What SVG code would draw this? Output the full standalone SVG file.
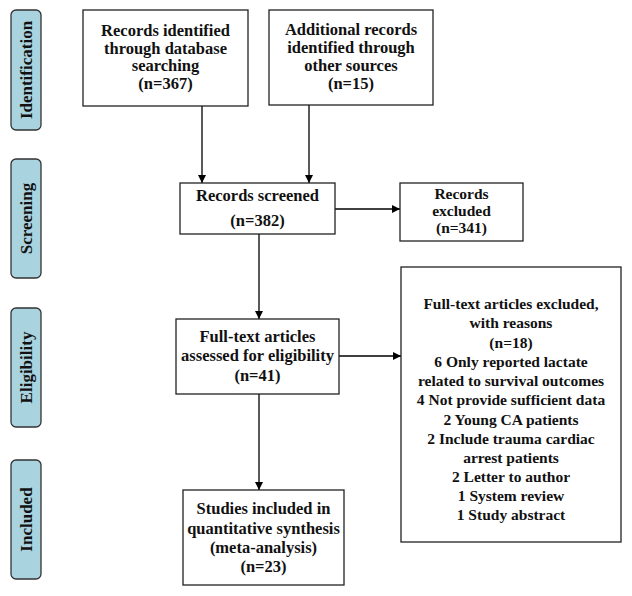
<svg xmlns="http://www.w3.org/2000/svg" width="632" height="596" viewBox="0 0 632 596">
<defs>
<marker id="arr" viewBox="0 0 10 10" refX="10" refY="5" markerWidth="8" markerHeight="8" markerUnits="userSpaceOnUse" orient="auto">
<path d="M0,0 L10,5 L0,10 z" fill="#000"/>
</marker>
<style>
.box{fill:#fff;stroke:#222;stroke-width:1.3}
.side{fill:#a9d3df;stroke:#333;stroke-width:1.3}
.t{font-family:"Liberation Serif","Times New Roman",serif;font-weight:bold;font-size:16.5px;text-anchor:middle;fill:#111}
.r{font-family:"Liberation Serif","Times New Roman",serif;font-weight:bold;font-size:15.5px;text-anchor:middle;fill:#111}
.s{font-family:"Liberation Serif","Times New Roman",serif;font-weight:bold;font-size:17px;text-anchor:middle;fill:#111}
.c{stroke:#000;stroke-width:1.3;fill:none;marker-end:url(#arr)}
</style>
</defs>
<rect width="632" height="596" fill="#fff"/>
<g id="phase-identification">
<rect class="side" x="11" y="10" width="30" height="120" rx="5"/>
<text class="s" transform="translate(32,70) rotate(-90)">Identification</text>
</g>
<g id="phase-screening">
<rect class="side" x="11" y="159" width="30" height="119" rx="5"/>
<text class="s" transform="translate(32,218.5) rotate(-90)">Screening</text>
</g>
<g id="phase-eligibility">
<rect class="side" x="11" y="308" width="30" height="119" rx="5"/>
<text class="s" transform="translate(32,367.5) rotate(-90)">Eligibility</text>
</g>
<g id="phase-included">
<rect class="side" x="11" y="460" width="30" height="119" rx="5"/>
<text class="s" transform="translate(32,519.5) rotate(-90)">Included</text>
</g>
<g id="connectors">
<line class="c" x1="202" y1="106" x2="202" y2="183"/>
<line class="c" x1="309" y1="105" x2="309" y2="183"/>
<line class="c" x1="335" y1="209" x2="400" y2="209"/>
<line class="c" x1="259" y1="234" x2="259" y2="319"/>
<line class="c" x1="339" y1="356" x2="401" y2="356"/>
<line class="c" x1="259" y1="394" x2="259" y2="490"/>
</g>
<g id="records-identified">
<rect class="box" x="83" y="10" width="165" height="96"/>
<text class="t" x="165.5" y="36">Records identified</text>
<text class="t" x="165.5" y="53.5">through database</text>
<text class="t" x="165.5" y="71">searching</text>
<text class="t" x="165.5" y="89">(n=367)</text>
</g>
<g id="additional-records">
<rect class="box" x="269" y="10" width="164" height="95"/>
<text class="t" x="351" y="35">Additional records</text>
<text class="t" x="351" y="53">identified through</text>
<text class="t" x="351" y="71">other sources</text>
<text class="t" x="351" y="89">(n=15)</text>
</g>
<g id="records-screened">
<rect class="box" x="180" y="183" width="155" height="51"/>
<text class="t" x="257.5" y="201">Records screened</text>
<text class="t" x="257.5" y="226">(n=382)</text>
</g>
<g id="records-excluded">
<rect class="box" x="400" y="183" width="123" height="58"/>
<text class="r" x="461.5" y="199">Records</text>
<text class="r" x="461.5" y="216">excluded</text>
<text class="r" x="461.5" y="233">(n=341)</text>
</g>
<g id="full-text-assessed">
<rect class="box" x="176" y="319" width="163" height="75"/>
<text class="t" x="257.5" y="342">Full-text articles</text>
<text class="t" x="257.5" y="361">assessed for eligibility</text>
<text class="t" x="257.5" y="381">(n=41)</text>
</g>
<g id="full-text-excluded">
<rect class="box" x="401" y="267" width="220" height="275"/>
<text class="r" x="511" y="309">Full-text articles excluded,</text>
<text class="r" x="511" y="328">with reasons</text>
<text class="r" x="511" y="347.5">(n=18)</text>
<text class="r" x="511" y="366.5">6 Only reported lactate</text>
<text class="r" x="511" y="386">related to survival outcomes</text>
<text class="r" x="511" y="405">4 Not provide sufficient data</text>
<text class="r" x="511" y="424.5">2 Young CA patients</text>
<text class="r" x="511" y="443.5">2 Include trauma cardiac</text>
<text class="r" x="511" y="463">arrest patients</text>
<text class="r" x="511" y="482">2 Letter to author</text>
<text class="r" x="511" y="501">1 System review</text>
<text class="r" x="511" y="520">1 Study abstract</text>
</g>
<g id="studies-included">
<rect class="box" x="183" y="490" width="161" height="95"/>
<text class="t" x="263.5" y="514">Studies included in</text>
<text class="t" x="263.5" y="533.5">quantitative synthesis</text>
<text class="t" x="263.5" y="553">(meta-analysis)</text>
<text class="t" x="263.5" y="572">(n=23)</text>
</g>
</svg>
